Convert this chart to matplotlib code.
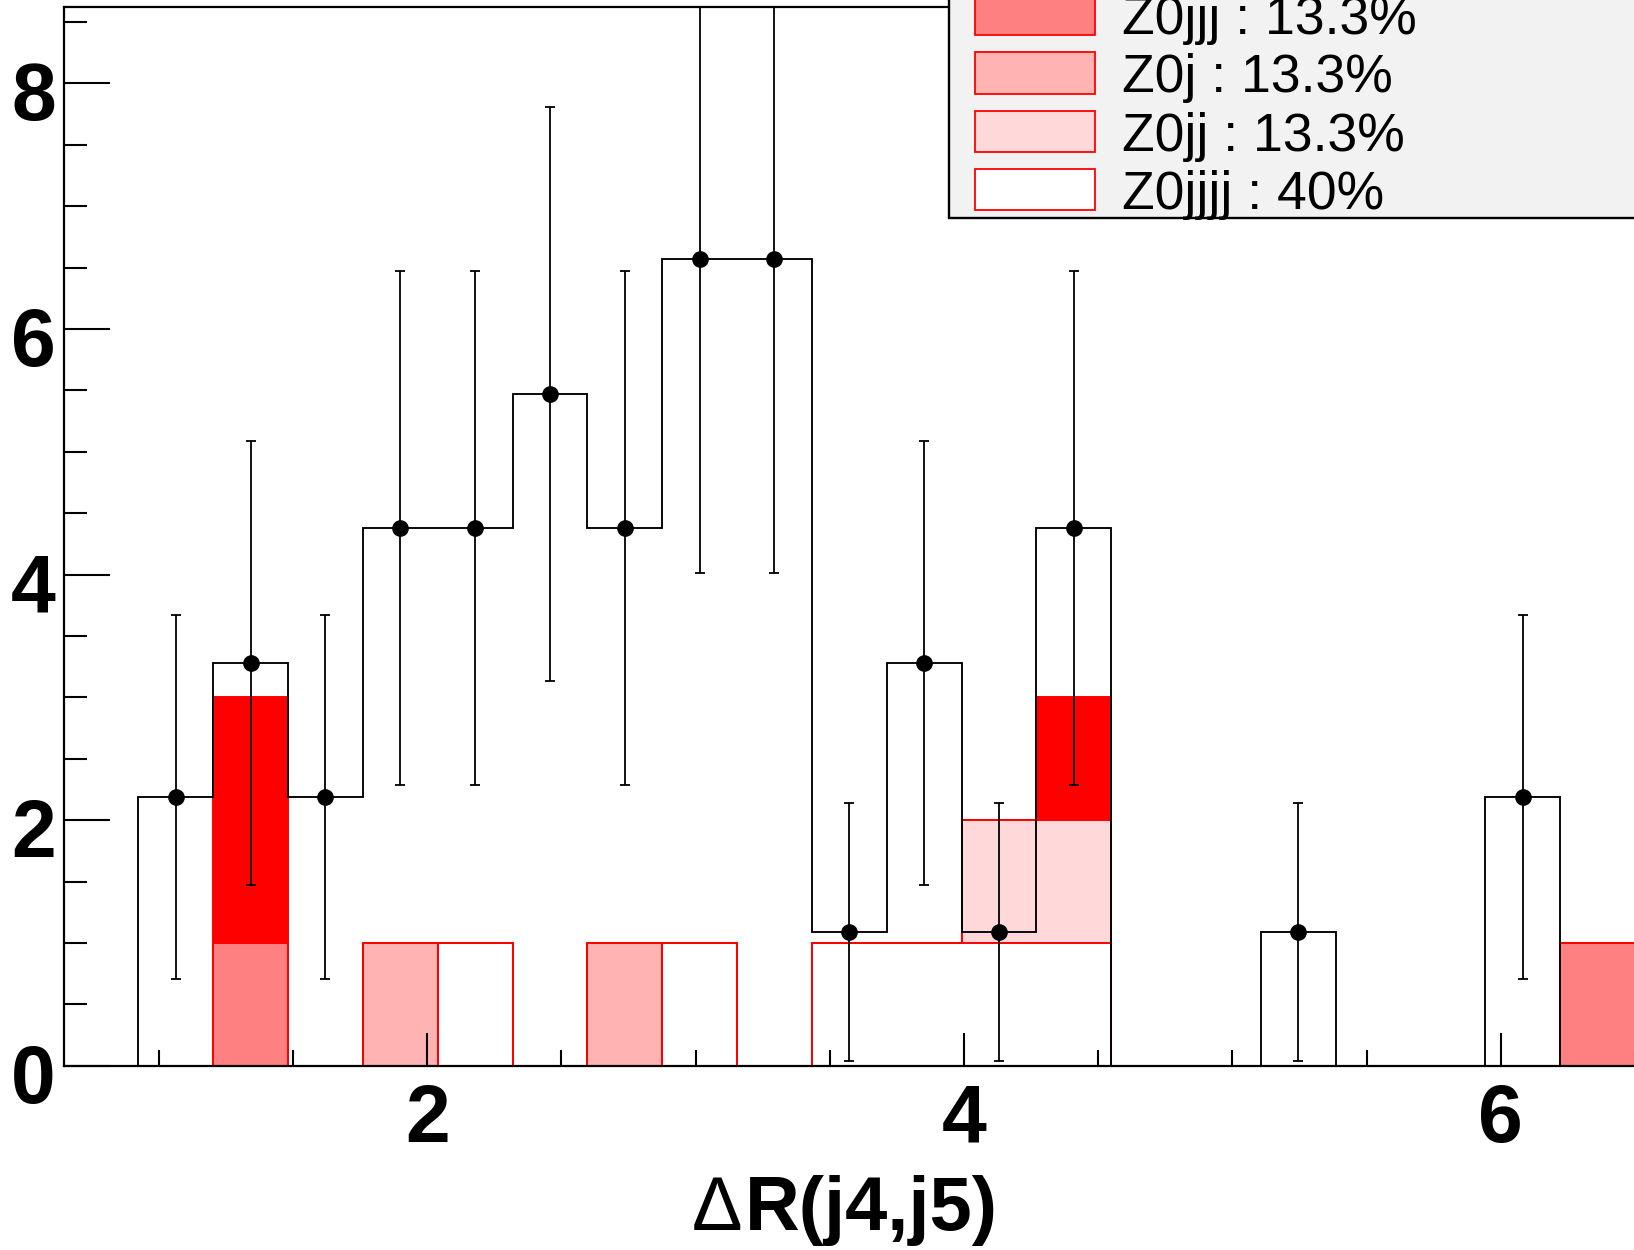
import numpy as np
import matplotlib
matplotlib.use("Agg")
import matplotlib.pyplot as plt
from matplotlib.patches import Rectangle
from matplotlib.ticker import MultipleLocator

plt.rcParams['font.family'] = ['Liberation Sans', 'DejaVu Sans']

# ---------------- data ----------------
x_low, x_high, n_bins = 0.645, 6.5, 21

data_values = [0, 2.19, 3.28, 2.19, 4.38, 4.38, 5.47, 4.38, 6.57, 6.57, 1.09,
               3.28, 1.09, 4.38, 0, 0, 1.09, 0, 0, 2.19, 0]
data_errors = [0, 1.48, 1.81, 1.48, 2.09, 2.09, 2.34, 2.09, 2.56, 2.56, 1.05,
               1.81, 1.05, 2.09, 0, 0, 1.05, 0, 0, 1.48, 0]

# stack components, bottom to top
z0jjjj = [0, 0, 0, 0, 0, 1, 0, 0, 1, 0, 1, 1, 1, 1, 0, 0, 0, 0, 0, 0, 0]
z0jj   = [0, 0, 0, 0, 0, 0, 0, 0, 0, 0, 0, 0, 1, 1, 0, 0, 0, 0, 0, 0, 0]
z0j    = [0, 0, 0, 0, 1, 0, 0, 1, 0, 0, 0, 0, 0, 0, 0, 0, 0, 0, 0, 0, 0]
z0jjj  = [0, 0, 1, 0, 0, 0, 0, 0, 0, 0, 0, 0, 0, 0, 0, 0, 0, 0, 0, 0, 1]
z0_top = [0, 0, 2, 0, 0, 0, 0, 0, 0, 0, 0, 0, 0, 1, 0, 0, 0, 0, 0, 0, 0]

stack_series = [z0jjjj, z0jj, z0j, z0jjj, z0_top]
stack_colors = ['#ffffff', '#ffd9d9', '#ffb3b3', '#ff8080', '#ff0000']

legend_labels = ["Z0jjj : 13.3%", "Z0j : 13.3%", "Z0jj : 13.3%", "Z0jjjj : 40%"]
legend_colors = ['#ff8080', '#ffb3b3', '#ffd9d9', '#ffffff']

y_ticks = [0, 2, 4, 6, 8]
x_ticks = [2, 4, 6]
x_title_sym = "Δ"
x_title_rest = "R(j4,j5)"

# ---------------- figure ----------------
W, H = 1634, 1250
fig = plt.figure(figsize=(W / 100, H / 100), dpi=100)
ax = fig.add_axes([63.5 / W, 184.3 / H, 1571.5 / W, 1058.4 / H])
ax.set_xlim(x_low, x_high)
ax.set_ylim(0, 8.62)

edges = np.linspace(x_low, x_high, n_bins + 1)
centers = 0.5 * (edges[:-1] + edges[1:])

# stacked histograms (cumulative, drawn from the top level down)
cum = np.cumsum(np.array(stack_series, dtype=float), axis=0)
for level in range(len(stack_series) - 1, -1, -1):
    ax.stairs(cum[level], edges, baseline=0, fill=True,
              facecolor=stack_colors[level], edgecolor='none', zorder=1 + 0.01 * (5 - level))
    ax.stairs(cum[level], edges, baseline=0, fill=False,
              color='#ff0000', lw=1.4, zorder=1.2 + 0.01 * (5 - level))

# data histogram outline
dv = np.array(data_values, dtype=float)
de = np.array(data_errors, dtype=float)
ax.stairs(dv, edges, baseline=0, color='black', lw=1.35, zorder=3)

mask = dv > 0
ax.errorbar(centers[mask], dv[mask], yerr=de[mask], fmt='o', color='black',
            ms=11, elinewidth=1.3, capsize=3.6, capthick=1.3, zorder=4)

# axes styling (ROOT-like)
for s in ['left', 'bottom', 'top']:
    ax.spines[s].set_linewidth(1.6)
ax.spines['right'].set_visible(False)
ax.yaxis.set_major_locator(MultipleLocator(2))
ax.yaxis.set_minor_locator(MultipleLocator(0.5))
ax.xaxis.set_major_locator(MultipleLocator(2))
ax.xaxis.set_minor_locator(MultipleLocator(0.5))
ax.tick_params(axis='y', which='major', direction='in', length=33, width=1.5,
               labelleft=False, right=False)
ax.tick_params(axis='y', which='minor', direction='in', length=16.5, width=1.5, right=False)
ax.tick_params(axis='x', which='major', direction='in', length=24, width=1.5,
               labelbottom=False, top=False)
ax.tick_params(axis='x', which='minor', direction='in', length=11.5, width=1.5, top=False)

for v in y_ticks:
    ax.annotate(str(v), xy=(0, v), xycoords=('axes fraction', 'data'),
                xytext=(-5.5, -26.6), textcoords='offset points',
                ha='right', va='baseline', fontsize=58, fontweight='bold',
                annotation_clip=False)
for v in x_ticks:
    ax.annotate(str(v), xy=(v, 0), xycoords=('data', 'axes fraction'),
                xytext=(0, -54.7), textcoords='offset points',
                ha='center', va='baseline', fontsize=58, fontweight='bold',
                annotation_clip=False)

# x title
fig.text(745 / W, 20 / H, x_title_rest, ha='left', va='baseline',
         fontsize=54.5, fontweight='bold')
fig.text(742 / W, 20 / H, x_title_sym, ha='right', va='baseline',
         fontsize=54.5, fontweight='normal')

# legend box (partially outside the canvas)
fig.patches.append(Rectangle((949.3 / W, (H - 218.3) / H), 0.6, 0.4,
                             transform=fig.transFigure, facecolor='#f2f2f2',
                             edgecolor='black', lw=1.7, zorder=10))
row_centers = [14.5, 72.9, 131.3, 189.7]
for lab, col, yc in zip(legend_labels, legend_colors, row_centers):
    fig.patches.append(Rectangle((974.7 / W, (H - yc - 20.6) / H), 120.3 / W, 41.3 / H,
                                 transform=fig.transFigure, facecolor=col,
                                 edgecolor='#ff0000', lw=1.3, zorder=11))
    fig.text(1121.7 / W, (H - yc - 19.2) / H, lab, ha='left', va='baseline',
             fontsize=38.5, zorder=12)

fig.savefig("out.png", dpi=100)
